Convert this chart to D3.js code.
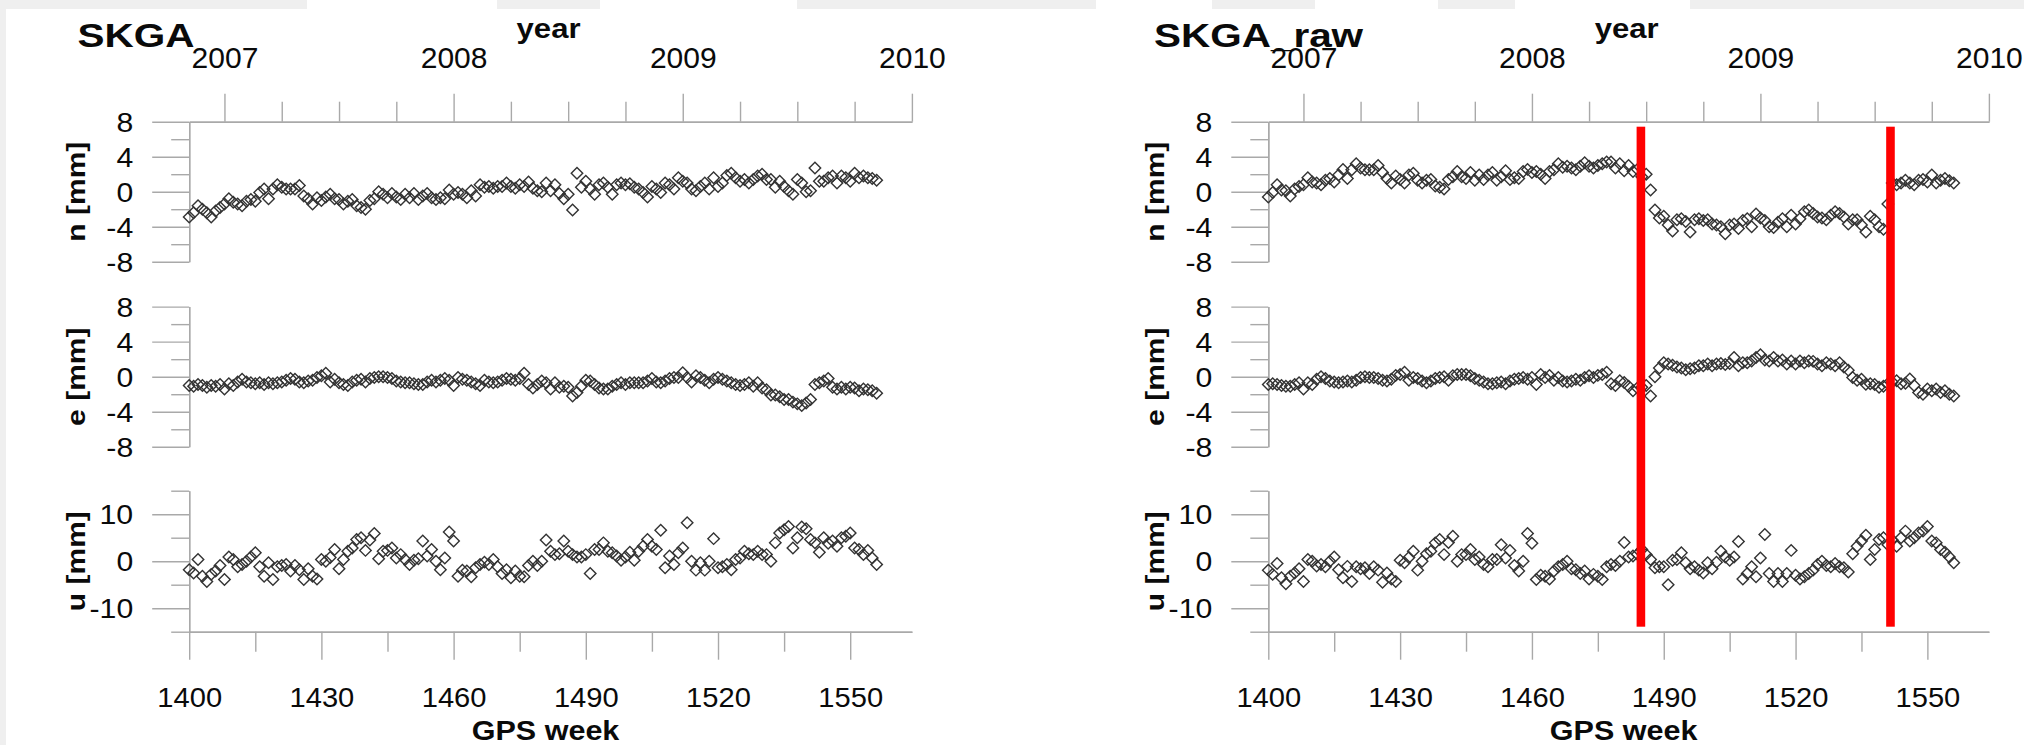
<!DOCTYPE html>
<html>
<head>
<meta charset="utf-8">
<script src="https://cdn.jsdelivr.net/npm/d3@7/dist/d3.min.js"></script>
<style>
  html, body { margin: 0; padding: 0; background: #ffffff; }
  svg { display: block; }
</style>
</head>
<body>
<svg id="chart" width="2024" height="745"></svg>
<script>
// ---------------- DATA ----------------
const firstWeek = 1400;            // GPS week of the first weekly sample

// SKGA (cleaned) north / east / up  [mm], weekly from GPS week 1400
const nClean = [
  -2.9,-2.4,-1.6,-2.0,-2.4,-2.9,-2.2,-1.8,-1.4,-0.8,
  -1.2,-1.4,-1.6,-1.1,-0.9,-1.1,-0.1,0.3,-0.8,0.3,
  0.8,0.5,0.3,0.3,0.3,0.7,-0.5,-0.8,-1.4,-0.7,
  -1.0,-0.6,-0.3,-0.8,-0.9,-1.4,-1.1,-0.9,-1.6,-1.8,
  -2.0,-1.0,-0.8,0.0,-0.3,-0.7,-0.2,-0.6,-0.9,-0.3,
  -0.7,-0.2,-0.9,-0.5,-0.2,-0.7,-0.9,-0.7,-0.8,0.2,
  -0.3,-0.1,-0.3,-0.7,0.1,-0.5,0.8,0.5,0.6,0.4,
  0.6,0.6,1.0,0.6,0.4,0.8,0.6,1.1,0.4,0.1,
  0.0,1.0,0.1,0.8,-0.2,-0.8,-0.3,-2.1,2.1,0.5,
  1.2,0.3,-0.3,0.8,1.0,0.5,-0.3,0.8,1.0,0.8,
  0.9,0.5,0.3,-0.1,-0.6,0.6,0.3,-0.1,1.0,0.8,
  0.3,1.6,1.2,1.0,0.3,0.1,0.6,1.0,0.3,1.6,
  0.6,1.0,1.85,2.1,1.6,1.2,1.4,1.0,1.4,1.8,
  2.0,1.4,1.4,0.5,1.2,0.6,0.1,-0.3,1.4,1.0,
  0.0,0.1,2.7,1.2,1.2,1.6,1.8,1.0,1.8,1.6,
  1.2,2.1,1.6,1.8,1.6,1.5,1.3
];
const eClean = [
  -1.0,-1.1,-0.9,-1.0,-1.2,-1.0,-1.1,-0.9,-1.4,-0.8,
  -1.0,-0.6,-0.3,-0.6,-0.7,-0.8,-0.7,-0.9,-0.7,-0.8,
  -0.7,-0.6,-0.4,-0.2,-0.3,-0.6,-0.7,-0.5,-0.4,-0.1,
  0.1,0.4,-0.6,-0.3,-0.7,-0.9,-1.0,-0.6,-0.4,-0.3,
  -0.6,-0.2,-0.1,0.0,0.0,-0.1,-0.2,-0.5,-0.6,-0.7,
  -0.7,-0.8,-0.9,-0.9,-0.6,-0.4,-0.6,-0.4,-0.2,-0.4,
  -1.0,-0.1,-0.3,-0.4,-0.6,-0.8,-1.0,-0.4,-0.6,-0.7,
  -0.6,-0.4,-0.2,-0.3,-0.4,-0.2,0.4,-0.9,-1.3,-0.9,
  -0.5,-0.7,-1.4,-0.7,-1.2,-1.1,-1.2,-2.2,-1.8,-1.1,
  -0.4,-0.5,-0.9,-1.3,-1.4,-1.4,-1.1,-0.9,-0.7,-0.9,
  -0.7,-0.7,-0.7,-0.7,-0.5,-0.2,-0.6,-0.7,-0.5,-0.2,
  -0.1,-0.1,0.45,-0.1,-0.6,0.1,-0.1,-0.4,-0.7,-0.3,
  -0.1,-0.3,-0.5,-0.7,-0.9,-1.0,-0.9,-0.7,-1.1,-0.7,
  -1.3,-1.5,-2.1,-2.1,-2.3,-2.6,-2.6,-2.9,-3.1,-3.3,
  -3.0,-2.6,-0.9,-0.7,-0.5,-0.2,-1.2,-1.4,-1.2,-1.4,
  -1.2,-1.3,-1.6,-1.4,-1.5,-1.6,-1.9
];
const uClean = [
  -1.8,-2.5,0.35,-3.2,-4.3,-2.8,-2.1,-0.9,-3.9,0.9,
  0.35,-1.2,-0.7,0,0.9,1.8,-1.2,-3.2,-0.35,-3.9,
  -1.2,-0.9,-0.7,-2.1,-0.9,-1.8,-3.9,-1.6,-3.2,-3.8,
  0.35,0,0.8,2.5,-1.6,0.35,2.1,2.8,4.6,5.0,
  2.3,4.5,5.9,0.5,2.1,2.3,2.8,0.7,1.4,0.35,
  -0.7,0.2,0.5,4.3,1.1,2.5,0,-1.8,0.7,6.2,
  4.3,-3.2,-1.9,-2.1,-3.3,-1.4,-0.7,-0.2,-0.7,0.35,
  -1.2,-2.6,-1.8,-3.5,-2.1,-3.2,-3.3,-0.9,0,-0.9,
  0,4.5,2.1,1.4,1.6,4.3,2.1,1.4,0.9,0.9,
  1.4,-2.6,2.5,2.5,3.9,2.1,1.8,1.1,0.2,0.9,
  1.9,0.2,2.1,3.2,4.6,3.2,2.5,6.6,-1.4,1.1,
  -0.7,1.8,2.8,8.2,0,-1.9,-0.35,-1.9,0,4.8,
  -1.4,-1.2,-0.7,-1.8,0.35,0.7,2.1,1.6,1.4,2.1,
  1.4,1.4,0,3.9,6.0,6.7,7.4,2.8,5.0,7.3,
  6.9,4.6,3.9,1.9,5.0,3.8,4.3,3.2,5.0,5.3,
  6.0,2.8,2.5,1.4,2.3,0.7,-0.7
];

// SKGA_raw north / east / up  [mm], weekly from GPS week 1400
const nRaw = [
  -0.6,-0.1,0.8,0.2,0.1,-0.5,0.3,0.6,0.8,1.6,
  1.1,1.0,0.8,1.3,1.5,1.1,1.9,2.55,1.5,2.5,
  3.2,2.7,2.5,2.5,2.5,3.0,2.2,1.5,1.0,1.8,
  1.4,1.0,1.9,2.1,1.3,1.0,1.3,1.4,0.65,0.5,
  0.3,1.4,1.7,2.3,1.7,1.5,2.2,1.3,1.9,1.4,
  1.9,2.2,1.3,1.7,2.4,1.4,1.6,1.5,2.3,2.55,
  2.2,2.3,2.0,1.5,2.3,2.5,3.2,2.8,2.9,2.7,
  2.5,2.9,3.3,2.9,2.7,3.0,3.2,3.4,
  3.4,2.7,3.2,2.4,3.0,2.3,2.55,1.7,2.0,0.2,
  -2.1,-3.0,-2.8,-3.8,-4.5,-3.2,-3.1,-3.4,-4.6,-3.2,
  -3.1,-3.3,-3.2,-3.7,-3.8,-4.0,-4.8,-3.8,-3.7,-4.2,
  -3.3,-3.1,-4.0,-2.55,-3.0,-3.3,-4.0,-4.1,-3.5,-3.1,
  -4.0,-2.7,-3.7,-3.1,-2.3,-2.1,-2.5,-2.9,-3.0,-3.2,
  -2.7,-2.3,-2.5,-2.9,-3.7,-3.2,-3.2,-3.8,-4.6,-2.8,
  -3.2,-4.0,-4.3,-1.4,1.0,0.8,1.0,1.3,1.0,0.8,
  1.3,1.4,1.1,1.9,1.0,1.3,1.5,1.25,1.0
];
const eRaw = [
  -0.9,-0.8,-0.9,-1.0,-1.1,-1.1,-0.9,-0.7,-1.4,-0.7,
  -0.9,-0.3,0.0,-0.2,-0.5,-0.6,-0.7,-0.6,-0.5,-0.6,
  -0.4,-0.1,0.0,-0.1,-0.1,-0.2,-0.4,-0.5,-0.3,0.15,
  0.25,0.5,-0.4,-0.1,-0.2,-0.5,-0.7,-0.5,-0.2,-0.1,
  0.0,-0.4,0.1,0.25,0.25,0.25,0.1,-0.2,-0.4,-0.6,
  -0.8,-0.8,-0.7,-0.6,-0.8,-0.5,-0.3,-0.2,-0.1,-0.3,
  -0.1,-0.9,0.25,-0.1,0.15,-0.4,-0.1,-0.5,-0.6,-0.5,
  -0.3,-0.4,-0.1,0.1,-0.1,0.15,0.25,0.5,
  -0.8,-1.0,-0.45,-0.65,-1.1,-1.6,-1.3,-1.2,-1.0,-2.2,
  0.0,1.0,1.6,1.45,1.3,1.1,1.0,0.8,0.9,1.0,
  1.25,1.25,1.45,1.25,1.45,1.5,1.4,1.5,2.2,1.25,
  1.6,1.6,1.8,2.2,2.5,1.9,1.8,2.2,1.8,1.9,
  1.45,1.8,1.45,1.8,1.6,1.8,1.75,1.45,1.25,1.6,
  1.45,1.25,1.6,1.1,0.75,-0.1,-0.4,-0.3,-0.85,-0.8,
  -0.9,-1.2,-1.1,-0.8,-0.6,-0.45,-0.8,-0.75,-0.25,-1.0,
  -1.8,-2.0,-1.4,-1.6,-1.4,-1.8,-1.6,-2.0,-2.2
];
const uRaw = [
  -1.9,-2.8,-0.5,-3.5,-4.8,-3.2,-2.5,-1.6,-4.3,0.35,
  0,-1.0,-0.7,-1.2,0,0.9,-1.8,-3.5,-1.1,-4.3,
  -1.2,-1.6,-1.4,-2.6,-1.2,-1.9,-4.5,-2.5,-3.8,-4.3,
  0.2,-0.35,0.8,2.1,-1.9,0,1.6,2.1,3.9,4.6,
  1.4,4.0,5.3,0,1.4,1.4,2.5,0.35,0.9,-0.7,
  -1.2,0.35,0.35,3.5,0.7,2.3,-0.9,-2.1,0,5.9,
  3.8,-3.9,-3.0,-3.2,-3.8,-2.1,-1.2,-0.7,0,-1.6,
  -1.8,-2.6,-2.1,-3.8,-2.8,-3.2,-3.9,-1.2,-0.7,-0.9,
  0,4.0,0.9,1.1,
  1.5,2.5,1.4,0.35,-1.4,-1.2,-1.2,-5.0,0.2,0.35,
  1.8,-0.35,-1.6,-1.2,-1.9,-2.5,-0.35,-1.6,-0.2,2.1,
  0.9,0.2,0.9,4.2,-3.8,-2.6,-1.2,-3.3,0.7,5.7,
  -2.6,-4.3,-2.6,-4.3,-2.6,2.3,-3.0,-3.8,-3.3,-2.6,
  -1.9,-0.7,0,-0.9,-1.2,-0.5,-1.2,-1.4,-2.3,1.6,
  3.2,4.3,5.5,0.35,2.5,4.6,5.0,3.5,4.5,3.2,
  5.0,6.4,4.3,5.0,6.0,6.4,7.4,4.3,3.9,2.5,
  1.9,0.9,-0.35
];

// axis tick values / labels
const weekDomain      = [1400, 1564];
const gpsMajorTicks   = [1400, 1430, 1460, 1490, 1520, 1550];
const gpsMinorTicks   = [1415, 1445, 1475, 1505, 1535];
const yearTickWeeks   = [1408, 1460, 1512, 1564];
const yearLabels      = ["2007", "2008", "2009", "2010"];
const quarterTickWeeks= [1421, 1434, 1447, 1473, 1486, 1499, 1525, 1538, 1551];
const neMajorTicks    = [-8, -4, 0, 4, 8];
const neMinorTicks    = [-6, -2, 2, 6];
const neDomain        = [-8, 8];
const uMajorTicks     = [-10, 0, 10];
const uMinorTicks     = [-15, -5, 5, 15];
const uDomain         = [-15, 15];
const offsetWeeks     = [1484.8, 1541.6];   // red marker lines (raw panel)

const panelTitles = ["SKGA", "SKGA_raw"];
const rowLabels   = ["n [mm]", "e [mm]", "u [mm]"];

// ---------------- LAYOUT ----------------
const FONT = "'Liberation Sans', Arial, Helvetica, sans-serif";
const AXIS = "#a9a9a9";
const INK = "#0a0a0a";
const MARK = "#333333";

const panels = [
  { title: panelTitles[0], x0: 189.2, x1: 911.9, titleX: 77.5, series: [nClean, eClean, uClean], red: [] },
  { title: panelTitles[1], x0: 1268.3, x1: 1988.9, titleX: 1154, series: [nRaw, eRaw, uRaw], red: offsetWeeks }
];
const rows = [
  { top: 121.7, bot: 261.7, domain: neDomain, major: neMajorTicks, minor: neMinorTicks },
  { top: 306.6, bot: 446.8, domain: neDomain, major: neMajorTicks, minor: neMinorTicks },
  { top: 490.7, bot: 631.7, domain: uDomain,  major: uMajorTicks,  minor: uMinorTicks }
];

const svg = d3.select("#chart");

// background artefacts (light grey frame remnants)
const bg = svg.append("g");
bg.append("rect").attr("x", 0).attr("y", 0).attr("width", 2024).attr("height", 745).attr("fill", "#ffffff");
bg.append("rect").attr("x", 0).attr("y", 0).attr("width", 6).attr("height", 745).attr("fill", "#efefef");
[[0, 307], [497, 600], [797, 1096], [1212, 1315], [1438, 1515], [1690, 2024]].forEach(([a, b]) => {
  bg.append("rect").attr("x", a).attr("y", 0).attr("width", b - a).attr("height", 9).attr("fill", "#efefef");
});

function stretch(sel, k) {
  sel.each(function () {
    const L = this.getComputedTextLength();
    this.setAttribute("textLength", (L * k).toFixed(1));
    this.setAttribute("lengthAdjust", "spacingAndGlyphs");
  });
}
function styleAxis(g) {
  g.selectAll(".domain").attr("stroke", AXIS).attr("stroke-width", 1.4);
  g.selectAll(".tick line").attr("stroke", AXIS).attr("stroke-width", 1.4);
}

const diamond = d3.symbol().type(d3.symbolSquare).size(66);

panels.forEach(p => {
  const x = d3.scaleLinear().domain(weekDomain).range([p.x0, p.x1]);
  const g = svg.append("g");

  // title
  const t = g.append("text").attr("x", p.titleX).attr("y", 46.5)
    .attr("font-family", FONT).attr("font-weight", "bold").attr("font-size", 34)
    .attr("fill", INK).text(p.title);
  stretch(t, 1.19);

  // "year" caption
  const yc = g.append("text").attr("x", (p.x0 + p.x1) / 2 - 2).attr("y", 37.5)
    .attr("text-anchor", "middle").attr("font-family", FONT).attr("font-weight", "bold")
    .attr("font-size", 27).attr("fill", INK).text("year");
  stretch(yc, 1.15);

  // rows
  rows.forEach((r, ri) => {
    const y = d3.scaleLinear().domain(r.domain).range([r.bot, r.top]);

    const gMinor = g.append("g").attr("transform", `translate(${p.x0},0)`)
      .call(d3.axisLeft(y).tickValues(r.minor).tickSize(18).tickSizeOuter(0).tickFormat(""));
    styleAxis(gMinor);
    const gMajor = g.append("g").attr("transform", `translate(${p.x0},0)`)
      .call(d3.axisLeft(y).tickValues(r.major).tickSize(37).tickPadding(19).tickSizeOuter(0).tickFormat(d => String(d)));
    styleAxis(gMajor);
    gMajor.selectAll("text").attr("font-family", FONT).attr("font-size", 27).attr("fill", INK).attr("dy", "0.36em");
    stretch(gMajor.selectAll("text"), 1.12);

    // row label (rotated)
    const lab = g.append("text")
      .attr("transform", `translate(${p.x0 - 104},${(r.top + r.bot) / 2}) rotate(-90)`)
      .attr("text-anchor", "middle").attr("font-family", FONT).attr("font-weight", "bold")
      .attr("font-size", 25).attr("fill", INK).text(rowLabels[ri]);
    stretch(lab, 1.2);

    // markers
    g.append("g").selectAll("path").data(p.series[ri]).join("path")
      .attr("d", diamond)
      .attr("transform", (d, i) => `translate(${x(firstWeek + i)},${y(d)}) rotate(45)`)
      .attr("fill", "none").attr("stroke", MARK).attr("stroke-width", 1.4);
  });

  // top year axis
  const topY = rows[0].top;
  const gTopMinor = g.append("g").attr("transform", `translate(0,${topY})`)
    .call(d3.axisTop(x).tickValues(quarterTickWeeks).tickSize(20).tickSizeOuter(0).tickFormat(""));
  styleAxis(gTopMinor);
  const gTop = g.append("g").attr("transform", `translate(0,${topY})`)
    .call(d3.axisTop(x).tickValues(yearTickWeeks).tickSize(28).tickPadding(25.4).tickSizeOuter(0)
      .tickFormat((d, i) => yearLabels[i]));
  styleAxis(gTop);
  gTop.selectAll("text").attr("font-family", FONT).attr("font-size", 30).attr("fill", INK);

  // bottom GPS-week axis
  const botY = rows[2].bot;
  const gBotMinor = g.append("g").attr("transform", `translate(0,${botY})`)
    .call(d3.axisBottom(x).tickValues(gpsMinorTicks).tickSize(20).tickSizeOuter(0).tickFormat(""));
  styleAxis(gBotMinor);
  const gBot = g.append("g").attr("transform", `translate(0,${botY})`)
    .call(d3.axisBottom(x).tickValues(gpsMajorTicks).tickSize(28).tickSizeOuter(0).tickFormat(d => String(d)));
  styleAxis(gBot);
  gBot.selectAll("text").attr("font-family", FONT).attr("font-size", 28).attr("fill", INK)
    .attr("y", 65.3).attr("dy", "0.36em");
  stretch(gBot.selectAll("text"), 1.04);

  const gl = g.append("text").attr("x", (p.x0 + p.x1) / 2 - 5).attr("y", 740)
    .attr("text-anchor", "middle").attr("font-family", FONT).attr("font-weight", "bold")
    .attr("font-size", 27).attr("fill", INK).text("GPS week");
  stretch(gl, 1.13);

  // red offset lines
  g.append("g").selectAll("rect").data(p.red).join("rect")
    .attr("x", d => x(d) - 4.3).attr("width", 8.6)
    .attr("y", 126.7).attr("height", 626.7 - 126.7)
    .attr("fill", "#ff0000");
});
</script>
</body>
</html>
